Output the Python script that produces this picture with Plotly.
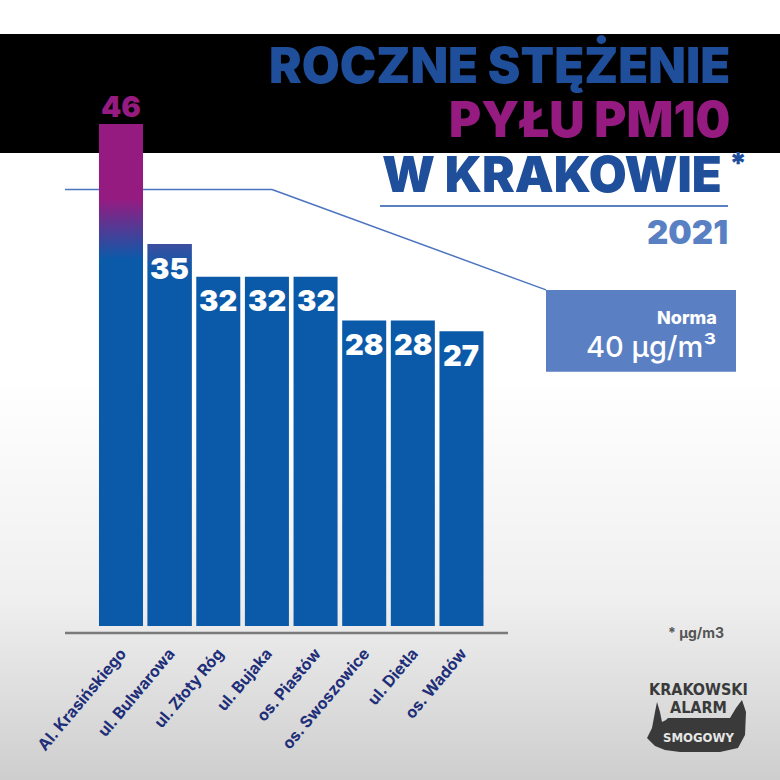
import base64
import struct
import zlib
import plotly.graph_objects as go

# ---------------- data ----------------
CATEGORIES = ["Al. Krasińskiego", "ul. Bulwarowa", "ul. Złoty Róg", "ul. Bujaka",
              "os. Piastów", "os. Swoszowice", "ul. Dietla", "os. Wadów"]
VALUES = [46, 35, 32, 32, 32, 28, 28, 27]
NORM = 40
NORM_LABEL = "Norma"
NORM_VALUE_TEXT = "40 µg/m³"
TITLE_LINES = ["ROCZNE STĘŻENIE", "PYŁU PM10", "W KRAKOWIE"]
YEAR = "2021"
FOOTNOTE = "* µg/m3"

# ---------------- style ----------------
W = H = 780
BLUE = "#0b5aa9"
MAGENTA = "#951b81"
TITLE_BLUE = "#1f4e9a"
LIGHT_BLUE = "#5a80c4"
NAVY = "#1e2e78"
FONT = "Inter"
BAR_W = 0.905


def px(x):
    return x / W


def py(y):
    return 1 - y / H


def gradient_png(height, stops):
    rows = bytearray()
    for r in range(height):
        for (y0, c0), (y1, c1) in zip(stops[:-1], stops[1:]):
            if y0 <= r <= y1:
                t = 0 if y1 == y0 else (r - y0) / (y1 - y0)
                rgb = [round(a + (b - a) * t) for a, b in zip(c0, c1)]
                break
        rows += b"\x00" + bytes(rgb) + bytes(rgb)

    def chunk(tag, data):
        return (struct.pack(">I", len(data)) + tag + data
                + struct.pack(">I", zlib.crc32(tag + data) & 0xffffffff))

    ihdr = struct.pack(">IIBBBBB", 2, height, 8, 2, 0, 0, 0)
    png = (b"\x89PNG\r\n\x1a\n" + chunk(b"IHDR", ihdr)
           + chunk(b"IDAT", zlib.compress(bytes(rows))) + chunk(b"IEND", b""))
    return "data:image/png;base64," + base64.b64encode(png).decode()


bg_src = gradient_png(H, [(0, (255, 255, 255)), (380, (255, 255, 255)),
                          (600, (239, 239, 239)), (779, (206, 206, 206))])

xs = list(range(len(CATEGORIES)))

fig = go.Figure()
fig.add_trace(go.Bar(x=xs, y=VALUES, width=BAR_W, marker=dict(color=BLUE, line=dict(width=0)),
                     hoverinfo="skip", showlegend=False))

# gradient tops of first two bars
grads = {
    0: [[0, BLUE], [0.73, BLUE], [0.85, MAGENTA], [1, MAGENTA]],
    1: [[0, BLUE], [0.93, BLUE], [1, "#3d4ea0"]],
}
for i, cs in grads.items():
    v = VALUES[i]
    fig.add_trace(go.Scatter(
        x=[i - BAR_W / 2, i + BAR_W / 2, i + BAR_W / 2, i - BAR_W / 2, i - BAR_W / 2],
        y=[0, 0, v, v, 0], mode="lines", fill="toself",
        line=dict(width=0, color="rgba(0,0,0,0)"),
        fillgradient=dict(type="vertical", colorscale=cs),
        hoverinfo="skip", showlegend=False))

annotations = []
# value labels
for i, v in enumerate(VALUES):
    if i == 0:
        annotations.append(dict(x=i, y=v, xref="x", yref="y", text=str(v), showarrow=False,
                                yanchor="middle", yshift=18,
                                font=dict(family=FONT, size=29, color=MAGENTA, weight=900)))
    else:
        annotations.append(dict(x=i, y=v, xref="x", yref="y", text=str(v), showarrow=False,
                                yanchor="middle", yshift=-24,
                                font=dict(family=FONT, size=29, color="white", weight=900)))

# title
title_y = [65, 119, 175]
title_x = [732, 732, 724]
title_col = [TITLE_BLUE, MAGENTA, TITLE_BLUE]
for t, xx, yy, c in zip(TITLE_LINES, title_x, title_y, title_col):
    annotations.append(dict(x=px(xx), y=py(yy), xref="paper", yref="paper", text=t,
                            showarrow=False, xanchor="right", yanchor="middle",
                            font=dict(family=FONT, size=49, color=c, weight=900)))
annotations.append(dict(x=px(727), y=py(163), xref="paper", yref="paper", text="*",
                        showarrow=False, xanchor="left", yanchor="middle",
                        font=dict(family=FONT, size=30, color=TITLE_BLUE, weight=900)))
annotations.append(dict(x=px(730), y=py(232), xref="paper", yref="paper", text=YEAR,
                        showarrow=False, xanchor="right", yanchor="middle",
                        font=dict(family=FONT, size=33, color=LIGHT_BLUE, weight=900)))

# norm callout (y in data units)
CALLOUT_Y0, CALLOUT_Y1 = 23.3, 30.8
annotations.append(dict(x=px(719), y=28.3, xref="paper", yref="y", text=NORM_LABEL,
                        showarrow=False, xanchor="right", yanchor="middle",
                        font=dict(family=FONT, size=18, color="white", weight=800)))
annotations.append(dict(x=px(719), y=25.6, xref="paper", yref="y", text=NORM_VALUE_TEXT,
                        showarrow=False, xanchor="right", yanchor="middle",
                        font=dict(family=FONT, size=29, color="white", weight=500)))

# footnote
annotations.append(dict(x=px(726), y=py(632), xref="paper", yref="paper", text=FOOTNOTE,
                        showarrow=False, xanchor="right", yanchor="middle",
                        font=dict(family=FONT, size=14, color="#555555", weight=700)))

# logo text
LOGO_FONT = "DejaVu Sans Condensed, Liberation Sans Narrow, sans-serif"
annotations.append(dict(x=px(698), y=py(689), xref="paper", yref="paper", text="KRAKOWSKI",
                        showarrow=False, xanchor="center", yanchor="middle",
                        font=dict(family=LOGO_FONT, size=16, color="#3a3a3a", weight=900)))
annotations.append(dict(x=px(698), y=py(707), xref="paper", yref="paper", text="ALARM",
                        showarrow=False, xanchor="center", yanchor="middle",
                        font=dict(family=LOGO_FONT, size=16, color="#3a3a3a", weight=900)))
annotations.append(dict(x=px(698), y=py(737), xref="paper", yref="paper", text="SMOGOWY",
                        showarrow=False, xanchor="center", yanchor="middle",
                        font=dict(family=LOGO_FONT, size=13, color="#e6e6e6", weight=700)))

croc = [(647, 738), (652, 728), (655, 712), (657, 702), (660, 712), (662, 722), (666, 720),
        (668, 718), (730, 718), (736, 708), (742, 700), (746, 712), (745, 735), (738, 748),
        (720, 752), (680, 752), (665, 750), (655, 746)]
croc_path = "M " + " L ".join(f"{px(a):.5f},{py(b):.5f}" for a, b in croc) + " Z"

shapes = [
    # black band
    dict(type="rect", xref="paper", yref="paper", x0=0, x1=1, y0=py(153), y1=py(34),
         fillcolor="black", line=dict(width=0), layer="below"),
    # baseline
    dict(type="line", xref="paper", yref="paper", x0=px(65), x1=px(508), y0=py(633), y1=py(633),
         line=dict(color="#7a7a7a", width=2.5), layer="below"),
    # title underline
    dict(type="line", xref="paper", yref="paper", x0=px(380), x1=px(728), y0=py(206), y1=py(206),
         line=dict(color=LIGHT_BLUE, width=2), layer="below"),
    # norm line
    dict(type="line", xref="paper", yref="y", x0=px(65), x1=px(272), y0=NORM, y1=NORM,
         line=dict(color="#4d74c0", width=1.5), layer="below"),
    dict(type="line", xref="paper", yref="y", x0=px(272), x1=px(546), y0=NORM, y1=CALLOUT_Y1,
         line=dict(color="#4d74c0", width=1.5), layer="below"),
    dict(type="rect", xref="paper", yref="y", x0=px(546), x1=px(736), y0=CALLOUT_Y0, y1=CALLOUT_Y1,
         fillcolor="#5a7fc3", line=dict(width=0), layer="below"),
    # logo body
    dict(type="path", xref="paper", yref="paper", path=croc_path, fillcolor="#3a3a3a",
         line=dict(width=0), layer="below"),
]

# axis geometry: bar centres at 121 px with a pitch of 48.64 px; 0 at 626 px, 10.913 px per unit
x0_rng = -121 / 48.64
x1_rng = x0_rng + W / 48.64
y_dom0 = 1 - 633 / H
y_lo = -(633 - 626) / 10.913
y_hi = 626 / 10.913

fig.update_layout(
    width=W, height=H,
    margin=dict(l=0, r=0, t=0, b=0),
    paper_bgcolor="white", plot_bgcolor="rgba(0,0,0,0)",
    showlegend=False,
    xaxis=dict(domain=[0, 1], range=[x0_rng, x1_rng], tickvals=xs, ticktext=CATEGORIES,
               tickangle=-50, showgrid=False, zeroline=False, showline=False, ticks="",
               ticklabelstandoff=7,
               tickfont=dict(family=FONT, size=16, color=NAVY, weight=700), fixedrange=True),
    yaxis=dict(domain=[y_dom0, 1], range=[y_lo, y_hi], visible=False, fixedrange=True),
    images=[dict(source=bg_src, xref="paper", yref="paper", x=0, y=1, sizex=1, sizey=1,
                 sizing="stretch", layer="below", xanchor="left", yanchor="top")],
    shapes=shapes,
    annotations=annotations,
)

fig.write_html("out.html", config={"displayModeBar": False},
               post_script="document.body.style.margin='0';document.body.style.padding='0';")
